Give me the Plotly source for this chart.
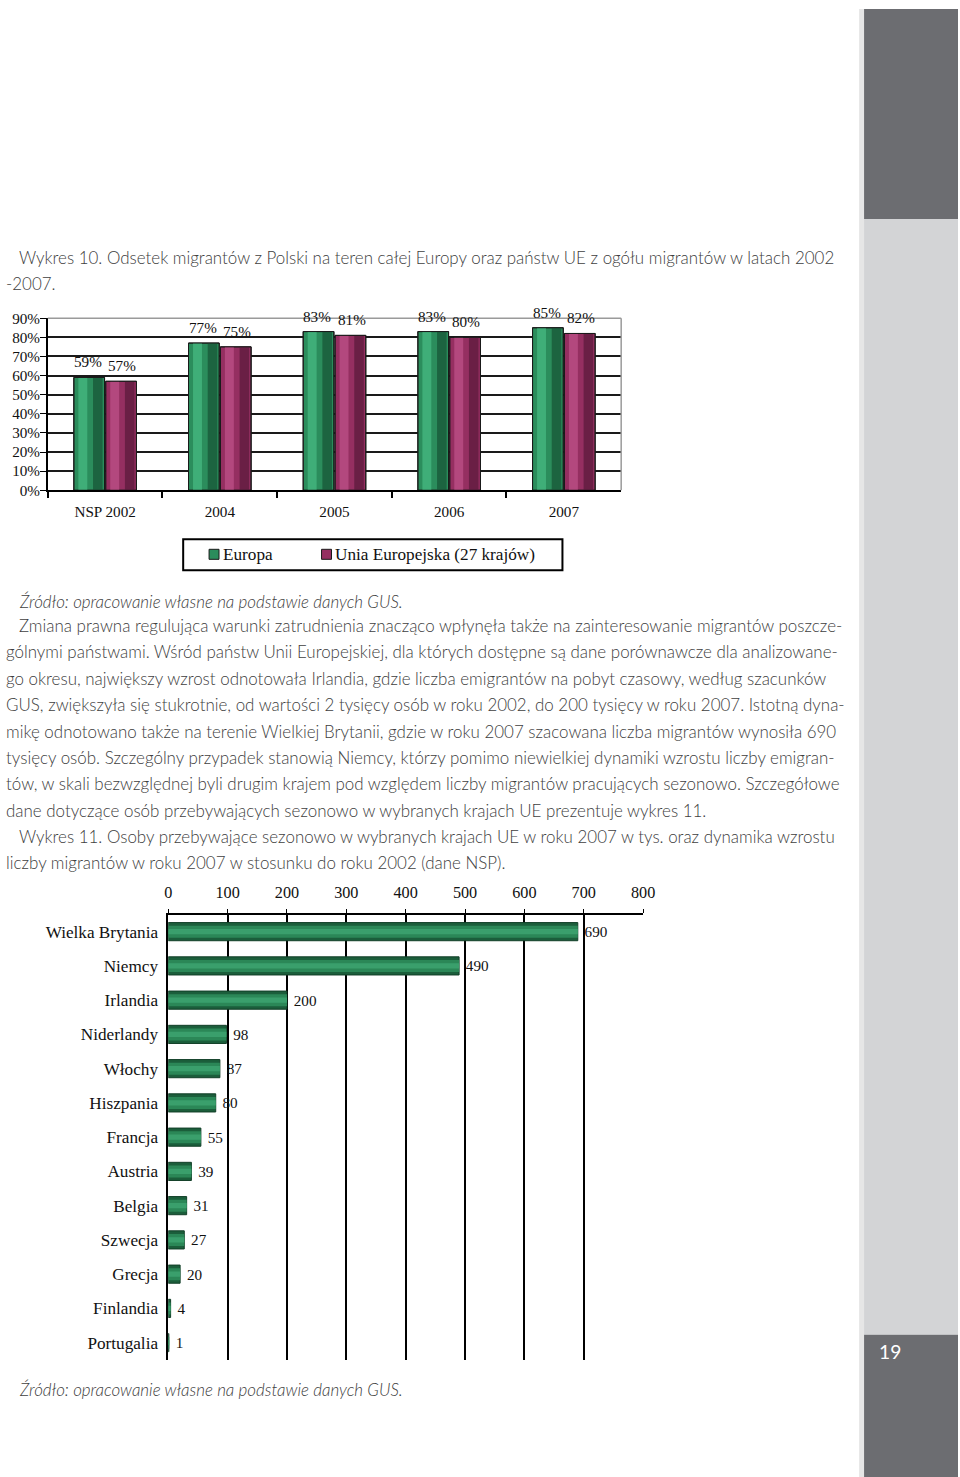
import math
import plotly.graph_objects as go

# ---------------- data ----------------
years = ["NSP 2002", "2004", "2005", "2006", "2007"]
europa = [59, 77, 83, 83, 85]
ue27 = [57, 75, 81, 80, 82]
series_names = ["Europa", "Unia Europejska (27 krajów)"]

countries = ["Wielka Brytania", "Niemcy", "Irlandia", "Niderlandy", "Włochy", "Hiszpania",
             "Francja", "Austria", "Belgia", "Szwecja", "Grecja", "Finlandia", "Portugalia"]
seasonal = [690, 490, 200, 98, 87, 80, 55, 39, 31, 27, 20, 4, 1]

title10 = ["Wykres 10. Odsetek migrantów z Polski na teren całej Europy oraz państw UE z ogółu migrantów w latach 2002",
           "-2007."]
source_txt = "Źródło: opracowanie własne na podstawie danych GUS."
paragraph = [
    "Zmiana prawna regulująca warunki zatrudnienia znacząco wpłynęła także na zainteresowanie migrantów poszcze-",
    "gólnymi państwami. Wśród państw Unii Europejskiej, dla których dostępne są dane porównawcze dla analizowane-",
    "go okresu, największy wzrost odnotowała Irlandia, gdzie liczba emigrantów na pobyt czasowy, według szacunków",
    "GUS, zwiększyła się stukrotnie, od wartości 2 tysięcy osób w roku 2002, do 200 tysięcy w roku 2007. Istotną dyna-",
    "mikę odnotowano także na terenie Wielkiej Brytanii, gdzie w roku 2007 szacowana liczba migrantów wynosiła 690",
    "tysięcy osób. Szczególny przypadek stanowią Niemcy, którzy pomimo niewielkiej dynamiki wzrostu liczby emigran-",
    "tów, w skali bezwzględnej byli drugim krajem pod względem liczby migrantów pracujących sezonowo. Szczegółowe",
    "dane dotyczące osób przebywających sezonowo w wybranych krajach UE prezentuje wykres 11.",
]
title11 = ["Wykres 11. Osoby przebywające sezonowo w wybranych krajach UE w roku 2007 w tys. oraz dynamika wzrostu",
           "liczby migrantów w roku 2007 w stosunku do roku 2002 (dane NSP)."]
page_no = "19"

# The captured page is offset/scaled slightly; layout positions below are given in
# target-picture pixels and converted to figure pixels.
S, BX, BY = 0.988, 2.0, 8.0
W = math.ceil((960 - BX) / S)
H = math.ceil((1477 - BY) / S)
SERIF = "Liberation Serif"
SANS = "Lato"
TXT = "#404040"
NB = "\u00a0"


def px(x):
    return min(max(((x - BX) / S) / W, 0), 1)


def py(y):
    return min(max(1 - ((y - BY) / S) / H, 0), 1)


def fs(size):
    return round(size / S, 2)


fig = go.Figure()

# ---------- chart 1 : grouped bars with shading ----------
bw = 0.278
e_vals = [v / 100 for v in europa]
u_vals = [v / 100 for v in ue27]
series = [
    (series_names[0], e_vals, -bw, "#2b8d5c", "#3fae78", "#1c6440"),
    (series_names[1], u_vals, 0.0, "#952f61", "#b3487e", "#6a1f45"),
]
for name, vals, off, main, hi, sh in series:
    fig.add_trace(go.Bar(x=years, y=vals, width=bw - 0.01, offset=off + 0.005, name=name, showlegend=False,
                         marker=dict(color=main, line=dict(color="#1a1a1a", width=1)),
                         xaxis="x", yaxis="y", hoverinfo="skip"))
    fig.add_trace(go.Bar(x=years, y=vals, width=bw * 0.3, offset=off + bw * 0.62, showlegend=False,
                         marker=dict(color=sh, line=dict(width=0)), xaxis="x", yaxis="y", hoverinfo="skip"))
    fig.add_trace(go.Bar(x=years, y=vals, width=bw * 0.28, offset=off + bw * 0.16, showlegend=False,
                         marker=dict(color=hi, line=dict(width=0)), xaxis="x", yaxis="y", hoverinfo="skip"))
    fig.add_trace(go.Bar(x=years, y=vals, width=bw - 0.01, offset=off + 0.005, showlegend=False,
                         marker=dict(color="rgba(0,0,0,0)", line=dict(color="#1a1a1a", width=1)),
                         xaxis="x", yaxis="y", hoverinfo="skip"))

annotations = []
for i, v in enumerate(europa):
    annotations.append(dict(x=i, y=v / 100, xref="x", yref="y", text=f"{v}%", showarrow=False,
                            xshift=-17 / S, yshift=5 / S, yanchor="bottom",
                            font=dict(family=SERIF, size=fs(15), color="#111")))
for i, v in enumerate(ue27):
    annotations.append(dict(x=i, y=v / 100, xref="x", yref="y", text=f"{v}%", showarrow=False,
                            xshift=17 / S, yshift=5 / S, yanchor="bottom",
                            font=dict(family=SERIF, size=fs(15), color="#111")))

# ---------- chart 2 : horizontal bars ----------
hb = 0.53
fig.add_trace(go.Bar(y=countries, x=seasonal, orientation="h", width=hb, showlegend=False,
                     marker=dict(color="#1b5e3b", line=dict(color="#123f28", width=1)),
                     text=[NB + str(v) for v in seasonal], textposition="outside", cliponaxis=False,
                     constraintext="none",
                     textfont=dict(family=SERIF, size=fs(15), color="#111"),
                     xaxis="x2", yaxis="y2", hoverinfo="skip"))
fig.add_trace(go.Bar(y=countries, x=seasonal, orientation="h", width=hb * 0.66, showlegend=False,
                     marker=dict(color="#2b8757", line=dict(width=0)),
                     xaxis="x2", yaxis="y2", hoverinfo="skip"))
fig.add_trace(go.Bar(y=countries, x=seasonal, orientation="h", width=hb * 0.3, showlegend=False,
                     marker=dict(color="#3a9f6c", line=dict(width=0)),
                     xaxis="x2", yaxis="y2", hoverinfo="skip"))

# ---------- page texts ----------
def txt(x, y, s, italic=False, size=16.75, color=TXT):
    annotations.append(dict(x=px(x), y=py(y), xref="paper", yref="paper", text=s, showarrow=False,
                            xanchor="left", yanchor="middle",
                            font=dict(family=SANS, size=fs(size), color=color, weight=300,
                                      style="italic" if italic else "normal")))

txt(15, 256, title10[0])
txt(0, 282, title10[1])
txt(15, 600, source_txt, italic=True)
for i, line in enumerate(paragraph):
    txt(15 if i == 0 else 0, 624 + i * 26.4, line)
txt(15, 835, title11[0])
txt(0, 861, title11[1])
txt(15, 1388, source_txt, italic=True)

annotations.append(dict(x=px(879), y=py(1350), xref="paper", yref="paper", text=page_no, showarrow=False,
                        xanchor="left", yanchor="middle",
                        font=dict(family=SANS, size=fs(19), color="white")))

# legend (drawn as frame + swatches + labels)
leg_items = [(series_names[0], "#2b8d5c", 208), (series_names[1], "#952f61", 321)]
for name, col, sx in leg_items:
    annotations.append(dict(x=px(sx + 12), y=py(553), xref="paper", yref="paper", text=name,
                            showarrow=False, xanchor="left", yanchor="middle",
                            font=dict(family=SERIF, size=fs(17), color="#111")))

shapes = [
    dict(type="rect", xref="paper", yref="paper", x0=px(861), x1=px(866), y0=0, y1=1,
         fillcolor="#e6e6e6", line=dict(width=0), layer="below"),
    dict(type="rect", xref="paper", yref="paper", x0=px(866), x1=1, y0=py(218), y1=1,
         fillcolor="#6c6d71", line=dict(width=0), layer="below"),
    dict(type="rect", xref="paper", yref="paper", x0=px(866), x1=1, y0=py(1333), y1=py(218),
         fillcolor="#d3d4d6", line=dict(width=0), layer="below"),
    dict(type="rect", xref="paper", yref="paper", x0=px(866), x1=1, y0=0, y1=py(1333),
         fillcolor="#6c6d71", line=dict(width=0), layer="below"),
    # chart 1 grey top / right border
    dict(type="line", xref="x domain", yref="y domain", x0=0, x1=1, y0=1, y1=1,
         line=dict(color="#9a9a9a", width=1.5)),
    dict(type="line", xref="x domain", yref="y domain", x0=1, x1=1, y0=0, y1=1,
         line=dict(color="#9a9a9a", width=1.5)),
    # legend frame
    dict(type="rect", xref="paper", yref="paper", x0=px(182), x1=px(563), y0=py(569), y1=py(538),
         line=dict(color="black", width=2), fillcolor="rgba(0,0,0,0)"),
]
for name, col, sx in leg_items:
    shapes.append(dict(type="rect", xref="paper", yref="paper", x0=px(sx), x1=px(sx + 10),
                       y0=py(558), y1=py(548), fillcolor=col, line=dict(color="#1a1a1a", width=1)))

fig.update_layout(
    width=W, height=H, margin=dict(l=0, r=0, t=0, b=0),
    paper_bgcolor="white", plot_bgcolor="white",
    barmode="overlay", showlegend=False,
    annotations=annotations, shapes=shapes,
    xaxis=dict(domain=[px(46), px(622)], anchor="y", type="category", range=[-0.5, 4.5],
               tickson="boundaries", ticks="outside", ticklen=6, tickcolor="black", tickwidth=1.5,
               showline=True, linecolor="black", linewidth=2, showgrid=False,
               ticklabelstandoff=7,
               tickfont=dict(family=SERIF, size=fs(15), color="#111")),
    yaxis=dict(domain=[py(489), py(317)], anchor="x", range=[0, 0.9], dtick=0.1, tickformat=".0%",
               ticks="outside", ticklen=6, tickcolor="black", showline=True, linecolor="black",
               linewidth=1.5, showgrid=True, gridcolor="#1a1a1a", gridwidth=1.5, zeroline=False,
               ticklabelstandoff=-3,
               tickfont=dict(family=SERIF, size=fs(15), color="#111")),
    xaxis2=dict(domain=[px(167), px(644)], anchor="y2", side="top", range=[0, 800], dtick=100,
                ticks="outside", ticklen=4, tickcolor="black", showline=True, linecolor="black",
                linewidth=2, showgrid=True, gridcolor="black", gridwidth=1.5, zeroline=False,
                ticklabelstandoff=4,
                tickfont=dict(family=SERIF, size=fs(16), color="#111")),
    yaxis2=dict(domain=[py(1358), py(913)], anchor="x2", type="category", autorange="reversed",
                showline=True, linecolor="black", linewidth=1.5, ticks="", showgrid=False,
                ticklabelstandoff=5,
                tickfont=dict(family=SERIF, size=fs(17), color="#111")),
)

fig.write_html("out.html")
